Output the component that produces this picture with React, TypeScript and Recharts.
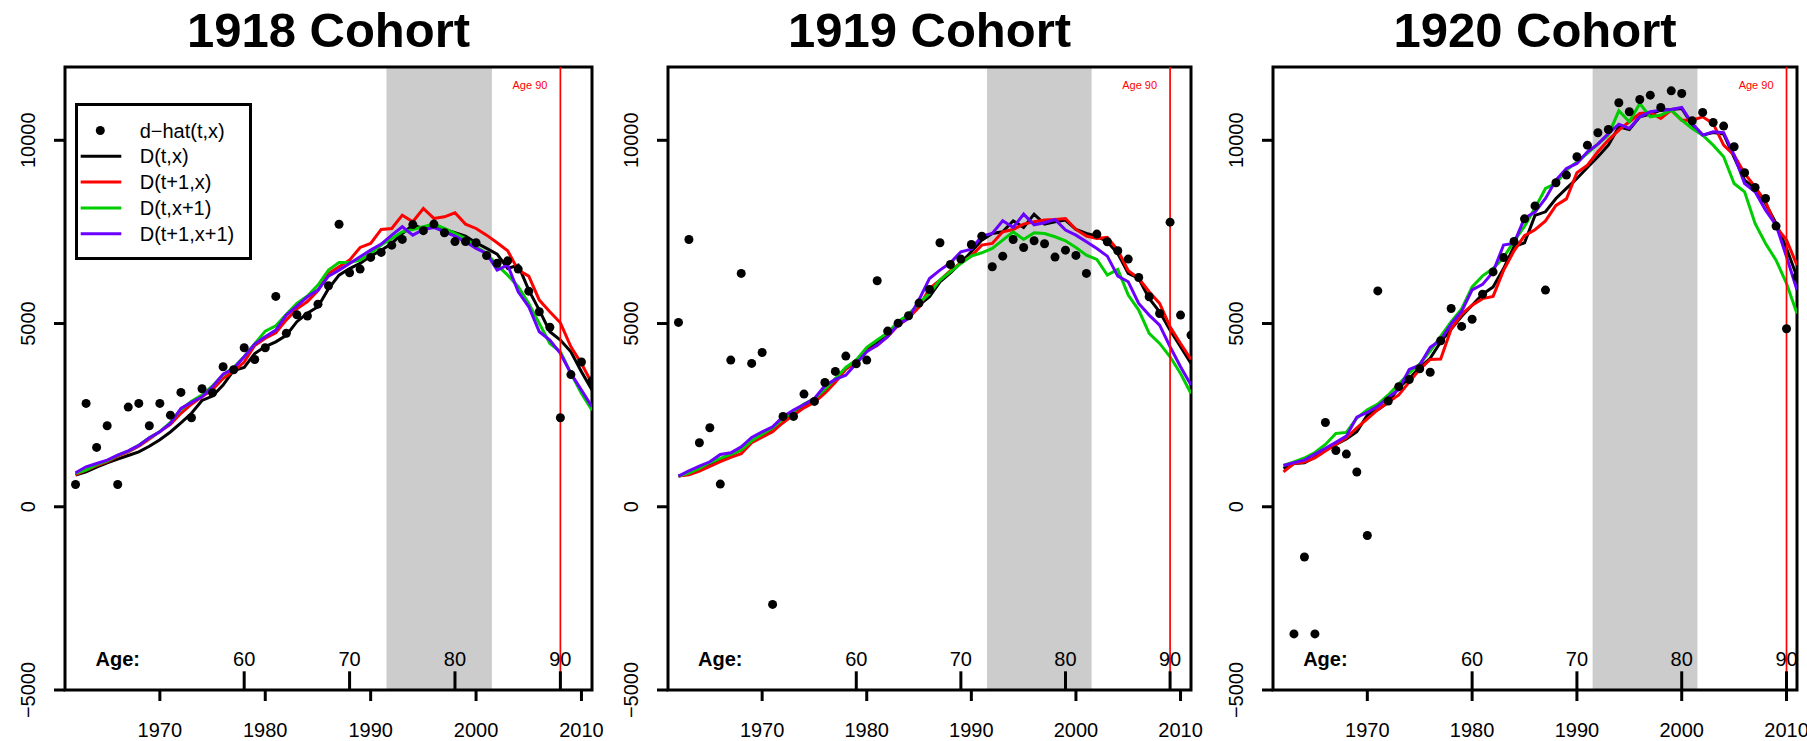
import {
  ComposedChart,
  Line,
  Scatter,
  XAxis,
  YAxis,
  ReferenceArea,
  ReferenceLine,
  ReferenceDot,
  Legend,
} from "recharts";

const FONT = '"Liberation Sans", Arial, Helvetica, sans-serif';

const years = [
  1962, 1963, 1964, 1965, 1966, 1967, 1968, 1969, 1970, 1971,
  1972, 1973, 1974, 1975, 1976, 1977, 1978, 1979, 1980, 1981,
  1982, 1983, 1984, 1985, 1986, 1987, 1988, 1989, 1990, 1991,
  1992, 1993, 1994, 1995, 1996, 1997, 1998, 1999, 2000, 2001,
  2002, 2003, 2004, 2005, 2006, 2007, 2008, 2009, 2010, 2011,
];

const yearTicks = [1970, 1980, 1990, 2000, 2010];
const valueTicks = [-5000, 0, 5000, 10000];
const ageLabels = [60, 70, 80, 90];
const shadeYears = [1991.5, 2001.5];

// 1918 cohort
const dhat1918 = [
  609, 2820, 1619, 2210, 609, 2720, 2820, 2210, 2820, 2500,
  3120, 2430, 3220, 3110, 3820, 3740, 4340, 4020, 4340, 5740,
  4734, 5240, 5206, 5528, 6030, 7710, 6385, 6485, 6805, 6940,
  7138, 7295, 7700, 7535, 7714, 7478, 7236, 7236, 7205, 6857,
  6646, 6710, 6485, 5884, 5320, 4897, 2428, 3606, 3950, 3436,
];
const D1918 = [
  864, 950, 1080, 1200, 1300, 1400, 1500, 1650, 1830, 2040,
  2290, 2550, 2900, 3020, 3320, 3720, 3800, 4180, 4370, 4500,
  4680, 5050, 5280, 5460, 5950, 6320, 6500, 6640, 6840, 7000,
  7185, 7458, 7685, 7594, 7712, 7567, 7476, 7385, 7203, 7049,
  6894, 6503, 6594, 5912, 5366, 4775, 4548, 4229, 3683, 3183,
];
const Dt1_1918 = [
  880, 1000, 1120, 1230, 1380, 1500, 1650, 1850, 2050, 2250,
  2550, 2800, 3000, 3200, 3500, 3700, 3950, 4400, 4600, 4750,
  5100, 5400, 5600, 5900, 6366, 6548, 6730, 7076, 7185, 7567,
  7594, 7958, 7776, 8140, 7867, 7912, 8022, 7712, 7594, 7412,
  7203, 6985, 6457, 6294, 5639, 5320, 5020, 4366, 3911, 3365,
];
const Dx1_1918 = [
  910, 1000, 1150, 1250, 1400, 1520, 1680, 1880, 2050, 2300,
  2650, 2880, 3050, 3300, 3600, 3800, 4100, 4450, 4793, 4939,
  5250, 5550, 5750, 6050, 6457, 6667, 6667, 6730, 6912, 7140,
  7321, 7503, 7567, 7640, 7712, 7594, 7458, 7321, 7094, 6912,
  6594, 6321, 6003, 5548, 5002, 4457, 4229, 3638, 3092, 2637,
];
const Dt1x1_1918 = [
  928, 1091, 1182, 1273, 1410, 1528, 1673, 1883, 2046, 2274,
  2683, 2847, 3001, 3274, 3620, 3774, 4093, 4438, 4638, 4820,
  5230, 5475, 5730, 5912, 6294, 6457, 6640, 6821, 7003, 7167,
  7412, 7640, 7412, 7567, 7621, 7503, 7385, 7230, 7049, 6912,
  6457, 6594, 5866, 5457, 4775, 4548, 4184, 3638, 3183, 2728,
];

// 1919 cohort
const dhat1919 = [
  5030, 7294, 1746, 2155, 618, 4002, 6367, 3911, 4211, -2665,
  2465, 2465, 3074, 2874, 3392, 3693, 4111, 3902, 4002, 6166,
  4793, 5011, 5211, 5557, 5930, 7203, 6612, 6758, 7158, 7385,
  6548, 6839, 7294, 7076, 7258, 7176, 6812, 7003, 6858, 6367,
  7440, 7231, 6985, 6758, 6257, 5730, 5275, 7767, 5230, 4684,
];
const D1919 = [
  837, 900, 1030, 1180, 1300, 1420, 1560, 1780, 1950, 2100,
  2300, 2550, 2780, 2900, 3150, 3450, 3780, 4000, 4300, 4480,
  4700, 5000, 5200, 5500, 5730, 6139, 6385, 6658, 6958, 7276,
  7458, 7503, 7803, 7622, 7985, 7712, 7776, 7822, 7567, 7458,
  7385, 7231, 6912, 6367, 6230, 5684, 5320, 4820, 4366, 3911,
];
const Dt1_1919 = [
  837, 870, 970, 1100, 1230, 1350, 1450, 1750, 1900, 2050,
  2300, 2500, 2700, 2850, 3100, 3400, 3750, 3950, 4250, 4400,
  4650, 4950, 5150, 5450, 5957, 6185, 6440, 6658, 6840, 7140,
  7185, 7503, 7567, 7712, 7776, 7822, 7840, 7867, 7567, 7385,
  7321, 7349, 7003, 6440, 6230, 5866, 5548, 4911, 4457, 4020,
];
const Dx1_1919 = [
  837, 920, 1050, 1200, 1320, 1430, 1550, 1800, 1980, 2150,
  2400, 2600, 2800, 2950, 3200, 3500, 3800, 4000, 4350, 4550,
  4750, 5050, 5250, 5550, 5821, 6185, 6412, 6640, 6840, 6930,
  7049, 7276, 7503, 7294, 7476, 7458, 7367, 7258, 7076, 6867,
  6749, 6321, 6476, 5775, 5366, 4730, 4457, 4093, 3638, 3092,
];
const Dt1x1_1919 = [
  837, 982, 1110, 1228, 1428, 1474, 1637, 1892, 2046, 2183,
  2456, 2638, 2792, 2956, 3302, 3474, 3592, 3911, 4229, 4411,
  4640, 4975, 5139, 5650, 6230, 6457, 6658, 6958, 7031, 7385,
  7458, 7803, 7622, 7985, 7694, 7749, 7840, 7549, 7412, 7231,
  7049, 6839, 6294, 6139, 5548, 5230, 4957, 4366, 3820, 3320,
];

// 1920 cohort
const dhat1920 = [
  null, -3470, -1370, -3470, 2300, 1536, 1438, 949, -783, 5890,
  2887, 3278, 3474, 3767, 3669, 4530, 5411, 4922, 5118, 5802,
  6409, 6800, 7241, 7857, 8210, 5912, 8840, 9050, 9550, 9868,
  10205, 10296, 11024, 10778, 11114, 11232, 10896, 11350, 11278, 10532,
  10760, 10487, 10387, 9823, 9113, 8713, 8413, 7658, 4857, 6276,
];
const D1920 = [
  1050, 1180, 1200, 1350, 1550, 1700, 1850, 2050, 2500, 2650,
  2850, 3250, 3500, 3800, 4050, 4500, 4850, 5200, 5500, 5800,
  6000, 6500, 7100, 7200, 7950, 8049, 8413, 8686, 8958, 9258,
  9550, 9868, 10368, 10296, 10641, 10714, 10823, 10841, 10869, 10432,
  10141, 10214, 10168, 9532, 8913, 8686, 8277, 7731, 7049, 6276,
];
const Dt1_1920 = [
  950, 1180, 1220, 1330, 1520, 1700, 1880, 2150, 2400, 2650,
  2850, 3050, 3400, 3750, 4020, 4030, 4850, 5250, 5500, 5680,
  5740, 6450, 6982, 7397, 7560, 7800, 8224, 8401, 9113, 9322,
  9686, 10005, 10278, 10505, 10732, 10760, 10596, 10823, 10550, 10550,
  10641, 10459, 9868, 9595, 9095, 8731, 8322, 7640, 7276, 6594,
];
const Dx1_1920 = [
  1125, 1225, 1330, 1480, 1700, 2000, 2030, 2420, 2650, 2800,
  3050, 3350, 3650, 3900, 4250, 4650, 5050, 5400, 6000, 6300,
  6500, 6800, 7250, 7650, 8150, 8686, 8822, 9186, 9413, 9641,
  9896, 10141, 10805, 10505, 11005, 10641, 10687, 10823, 10550, 10323,
  10141, 9868, 9550, 8822, 8595, 7731, 7185, 6730, 6094, 5275,
];
const Dt1x1_1920 = [
  1125, 1204, 1272, 1438, 1595, 1761, 1928, 2446, 2573, 2740,
  2984, 3200, 3748, 3865, 4354, 4550, 4990, 5333, 5920, 6067,
  6409, 7143, 7192, 7877, 8040, 8413, 8913, 9231, 9368, 9686,
  9896, 10186, 10441, 10323, 10641, 10778, 10823, 10841, 10896, 10459,
  10141, 10232, 10205, 9595, 8822, 8595, 8095, 7685, 6821, 5912,
];

const SERIES = [
  { key: "D", name: "D(t,x)", color: "#000000" },
  { key: "Dt1", name: "D(t+1,x)", color: "#FF0000" },
  { key: "Dx1", name: "D(t,x+1)", color: "#00CD00" },
  { key: "Dt1x1", name: "D(t+1,x+1)", color: "#6A00FF" },
];

type Row = { year: number; dhat: number | null; D: number; Dt1: number; Dx1: number; Dt1x1: number };

function buildRows(dhat: (number | null)[], d: number[], dt1: number[], dx1: number[], dt1x1: number[]): Row[] {
  return years.map((year, i) => ({
    year,
    dhat: dhat[i],
    D: d[i],
    Dt1: dt1[i],
    Dx1: dx1[i],
    Dt1x1: dt1x1[i],
  }));
}

const panels = [
  { title: "1918 Cohort", cohort: 1918, left: 65, width: 527, legend: true, rows: buildRows(dhat1918, D1918, Dt1_1918, Dx1_1918, Dt1x1_1918) },
  { title: "1919 Cohort", cohort: 1919, left: 668, width: 523, legend: false, rows: buildRows(dhat1919, D1919, Dt1_1919, Dx1_1919, Dt1x1_1919) },
  { title: "1920 Cohort", cohort: 1920, left: 1273, width: 524, legend: false, rows: buildRows(dhat1920, D1920, Dt1_1920, Dx1_1920, Dt1x1_1920) },
];

const AXIS_W = 65;
const RIGHT_PAD = 30;
const TOP = 67;
const PLOT_H = 623;
const CHART_H = 741;

function fmt(v: number) {
  return v < 0 ? "\u2212" + Math.abs(v) : String(v);
}

function XTick(props: any) {
  const { x, y, payload } = props;
  return (
    <text x={x} y={y} textAnchor="middle" fontSize={20} fontFamily={FONT} fill="#000">
      {payload.value}
    </text>
  );
}

function YTick(props: any) {
  const { x, y, payload } = props;
  return (
    <text x={x} y={y} transform={`rotate(-90 ${x} ${y})`} textAnchor="middle" fontSize={20} fontFamily={FONT} fill="#000">
      {fmt(payload.value)}
    </text>
  );
}

function LegendBox() {
  const rowY = [27.5, 53.3, 79.1, 104.9, 130.7];
  return (
    <svg width={177} height={157} style={{ display: "block" }}>
      <rect x={1.5} y={1.5} width={174} height={154} fill="#fff" stroke="#000" strokeWidth={3} />
      <circle cx={25.3} cy={rowY[0]} r={4.5} fill="#000" />
      <text x={64.7} y={rowY[0] + 7} fontSize={20} fontFamily={FONT} fill="#000">
        d{"\u2212"}hat(t,x)
      </text>
      {SERIES.map((s, i) => (
        <g key={s.key}>
          <line x1={5.7} x2={46.3} y1={rowY[i + 1]} y2={rowY[i + 1]} stroke={s.color} strokeWidth={3} />
          <text x={64.7} y={rowY[i + 1] + 7} fontSize={20} fontFamily={FONT} fill="#000">
            {s.name}
          </text>
        </g>
      ))}
    </svg>
  );
}

function CohortPanel({ p }: { p: (typeof panels)[number] }) {
  const age90 = p.cohort + 90;
  const points = p.rows.filter((r) => r.dhat !== null);
  return (
    <div style={{ position: "absolute", left: p.left - AXIS_W, top: 0 }}>
      <ComposedChart
        width={AXIS_W + p.width + RIGHT_PAD}
        height={CHART_H}
        data={p.rows}
        margin={{ top: TOP, right: RIGHT_PAD, bottom: 0, left: 0 }}
      >
        <XAxis
          dataKey="year"
          type="number"
          domain={[1961, 2011]}
          ticks={yearTicks}
          allowDataOverflow
          interval={0}
          height={CHART_H - TOP - PLOT_H}
          tickSize={11}
          tickMargin={36}
          axisLine={false}
          tickLine={{ stroke: "#000", strokeWidth: 3 }}
          tick={<XTick />}
        />
        <YAxis
          type="number"
          domain={[-5000, 12000]}
          ticks={valueTicks}
          allowDataOverflow
          interval={0}
          width={AXIS_W}
          tickSize={11}
          tickMargin={19}
          axisLine={false}
          tickLine={{ stroke: "#000", strokeWidth: 3 }}
          tick={<YTick />}
        />
        <ReferenceArea x1={shadeYears[0]} x2={shadeYears[1]} y1={-5000} y2={12000} fill="#CCCCCC" fillOpacity={1} stroke="none" />
        <Scatter
          data={points}
          dataKey="dhat"
          isAnimationActive={false}
          shape={(sp: any) => <circle cx={sp.cx} cy={sp.cy} r={4.5} fill="#000" />}
        />
        {SERIES.map((s) => (
          <Line
            key={s.key}
            type="linear"
            dataKey={s.key}
            stroke={s.color}
            strokeWidth={3}
            dot={false}
            activeDot={false}
            isAnimationActive={false}
          />
        ))}
        <ReferenceLine x={age90} stroke="#FF0000" strokeWidth={1.7} />
        <ReferenceDot
          x={age90}
          y={11400}
          r={0}
          shape={(sp: any) => (
            <text x={sp.cx - 13} y={sp.cy} textAnchor="end" fontSize={11} fontFamily={FONT} fill="#FF0000">
              Age 90
            </text>
          )}
        />
        {ageLabels.map((a) => (
          <ReferenceLine
            key={"t" + a}
            segment={[
              { x: p.cohort + a, y: -5000 },
              { x: p.cohort + a, y: -4490 },
            ]}
            stroke="#000"
            strokeWidth={3}
          />
        ))}
        {ageLabels.map((a) => (
          <ReferenceDot
            key={"l" + a}
            x={p.cohort + a}
            y={-4340}
            r={0}
            shape={(sp: any) => (
              <text x={sp.cx} y={sp.cy} textAnchor="middle" fontSize={20} fontFamily={FONT} fill="#000">
                {a}
              </text>
            )}
          />
        ))}
        <ReferenceDot
          x={1966}
          y={-4340}
          r={0}
          shape={(sp: any) => (
            <text x={sp.cx} y={sp.cy} textAnchor="middle" fontSize={20} fontWeight="bold" fontFamily={FONT} fill="#000">
              Age:
            </text>
          )}
        />
        <ReferenceArea
          x1={1961}
          x2={2011}
          y1={-5000}
          y2={12000}
          fill="none"
          stroke="#000"
          strokeWidth={3}
          ifOverflow="visible"
        />
        {p.legend && (
          <Legend
            layout="vertical"
            align="center"
            verticalAlign="middle"
            wrapperStyle={{ left: 75 - (p.left - AXIS_W), top: 103, width: 177, height: 157 }}
            content={() => <LegendBox />}
          />
        )}
      </ComposedChart>
    </div>
  );
}

export default function App() {
  return (
    <div
      style={{
        position: "absolute",
        left: 0,
        top: 0,
        width: 1807,
        height: 741,
        background: "#fff",
        overflow: "hidden",
        fontFamily: FONT,
      }}
    >
      {panels.map((p) => (
        <CohortPanel key={p.title} p={p} />
      ))}
      <svg width={1807} height={60} style={{ position: "absolute", left: 0, top: 0 }}>
        {panels.map((p) => (
          <text
            key={p.title}
            x={p.left + p.width / 2}
            y={46.7}
            textAnchor="middle"
            fontSize={49}
            fontWeight="bold"
            fontFamily={FONT}
            fill="#000"
          >
            {p.title}
          </text>
        ))}
      </svg>
    </div>
  );
}
